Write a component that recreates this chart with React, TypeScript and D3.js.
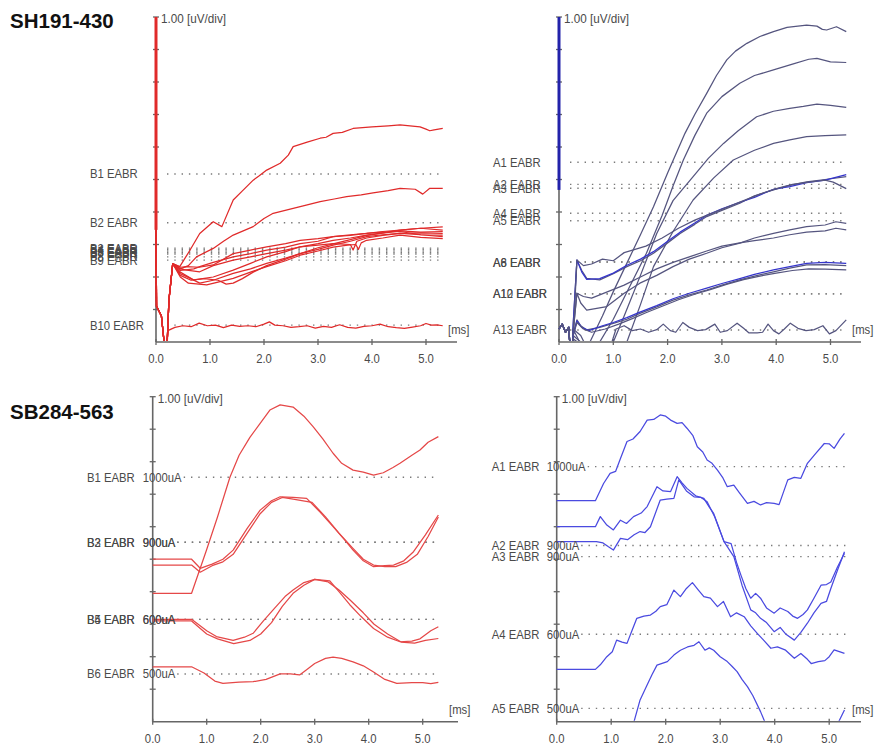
import React from 'react';
import * as d3 from 'd3';

type Pt = [number, number];

// ---- shared text / ticks ----
const titles = ['SH191-430', 'SB284-563'];
const scaleLabel = '1.00 [uV/div]';
const unitLabel = '[ms]';
const msTicks = [0, 1, 2, 3, 4, 5];
const msTickLabels = ['0.0', '1.0', '2.0', '3.0', '4.0', '5.0'];
const divTicks = [1, 2, 3, 4, 5, 6, 7, 8, 9, 10];

// ---- top left (SH191-430, B electrodes) ----
const tlRefNames = ['B1 EABR', 'B2 EABR', 'B3 EABR', 'B4 EABR', 'B5 EABR', 'B6 EABR', 'B7 EABR', 'B8 EABR', 'B9 EABR', 'B10 EABR'];
const tlRefValues = [5.17, 3.67, 2.89, 2.85, 2.8, 2.75, 2.71, 2.62, 2.52, 0.52];
const tlArtifact: Pt[] = [[0, 10], [0, 3.45]];
const tlOnset: Pt[] = [[0, 3.45], [0.01, 1.1], [0.1, 0.8], [0.15, 0], [0.18, -0.4], [0.2, -0.3], [0.24, 1.3], [0.31, 2.41]];
const tlB1: Pt[] = [[0.44, 2.32], [0.62, 2.8], [0.81, 3.34], [1.06, 3.7], [1.22, 3.55], [1.43, 4.37], [1.6, 4.65], [1.8, 4.98], [1.9, 5.1], [2.05, 5.29], [2.3, 5.5], [2.45, 5.75], [2.54, 6.01], [2.8, 6.15], [3.04, 6.27], [3.15, 6.3], [3.28, 6.42], [3.45, 6.45], [3.65, 6.57], [4.0, 6.62], [4.3, 6.65], [4.52, 6.68], [4.75, 6.64], [4.89, 6.62], [5.0, 6.55], [5.07, 6.5], [5.15, 6.53], [5.31, 6.57]];
const tlB2: Pt[] = [[0.45, 2.25], [0.6, 2.35], [0.75, 2.62], [1.06, 2.88], [1.25, 3.1], [1.43, 3.29], [1.8, 3.55], [2.0, 3.8], [2.17, 3.96], [2.54, 4.11], [2.8, 4.22], [3.04, 4.32], [3.3, 4.4], [3.53, 4.47], [3.8, 4.53], [4.02, 4.59], [4.3, 4.66], [4.52, 4.73], [4.8, 4.7], [4.94, 4.55], [5.07, 4.73], [5.31, 4.73]];
const tlC1: Pt[] = [[0.45, 2.25], [0.57, 2.21], [0.81, 2.16], [1.06, 2.35], [1.43, 2.52], [1.75, 2.62], [2.05, 2.72], [2.4, 2.83], [2.67, 2.93], [3.0, 3.03], [3.28, 3.13], [3.6, 3.2], [3.9, 3.29], [4.2, 3.36], [4.52, 3.44], [4.9, 3.5], [5.31, 3.54]];
const tlC2: Pt[] = [[0.45, 2.1], [0.57, 2.01], [0.81, 1.81], [1.06, 1.9], [1.43, 2.11], [1.75, 2.25], [2.05, 2.42], [2.4, 2.58], [2.67, 2.72], [3.0, 2.85], [3.28, 2.98], [3.6, 3.1], [3.9, 3.24], [4.2, 3.3], [4.52, 3.34], [4.9, 3.3], [5.31, 3.29]];
const tlC3: Pt[] = [[0.45, 2.0], [0.6, 1.81], [0.94, 1.76], [1.43, 1.96], [1.75, 2.15], [2.05, 2.32], [2.4, 2.5], [2.67, 2.67], [3.0, 2.8], [3.28, 2.92], [3.55, 2.98], [3.7, 3.0], [3.75, 2.85], [3.8, 3.05], [3.9, 3.13], [4.2, 3.2], [4.52, 3.29], [4.9, 3.22], [5.31, 3.18]];
const tlC4: Pt[] = [[0.45, 2.15], [0.7, 1.91], [1.06, 2.0], [1.43, 2.21], [1.75, 2.42], [2.05, 2.62], [2.4, 2.78], [2.67, 2.93], [3.0, 2.98], [3.28, 3.03], [3.6, 3.0], [3.65, 2.83], [3.72, 3.1], [3.9, 3.2], [4.2, 3.28], [4.52, 3.34], [4.9, 3.36], [5.31, 3.34]];
const tlC5: Pt[] = [[0.45, 2.05], [0.65, 1.9], [0.9, 1.95], [1.15, 1.9], [1.3, 1.78], [1.43, 1.81], [1.6, 1.95], [1.8, 2.15], [2.05, 2.35], [2.4, 2.55], [2.67, 2.72], [3.0, 2.9], [3.28, 3.02], [3.6, 3.15], [3.9, 3.28], [4.2, 3.35], [4.52, 3.42], [4.9, 3.38], [5.31, 3.4]];
const tlC6: Pt[] = [[0.45, 2.3], [0.57, 2.32], [0.8, 2.3], [1.06, 2.37], [1.43, 2.72], [1.75, 2.83], [2.05, 2.93], [2.4, 3.03], [2.67, 3.13], [3.0, 3.18], [3.28, 3.24], [3.6, 3.3], [3.9, 3.34], [4.2, 3.4], [4.52, 3.44], [4.9, 3.5], [5.31, 3.44]];
const tlC7: Pt[] = [[0.45, 2.2], [0.7, 2.25], [0.81, 2.32], [1.06, 2.45], [1.43, 2.62], [1.75, 2.72], [2.05, 2.83], [2.4, 2.92], [2.67, 3.03], [3.0, 3.1], [3.28, 3.24], [3.6, 3.28], [3.9, 3.34], [4.2, 3.38], [4.52, 3.4], [4.9, 3.3], [5.31, 3.24]];
const tlB10: Pt[] = [[0, 3.45], [0.01, 1.1], [0.1, 0.8], [0.15, 0], [0.18, -0.4], [0.2, -0.3], [0.22, 0.35], [0.35, 0.45], [0.5, 0.5], [0.65, 0.47], [0.8, 0.58], [0.95, 0.5], [1.1, 0.52], [1.25, 0.44], [1.4, 0.52], [1.55, 0.48], [1.7, 0.5], [1.85, 0.47], [2.0, 0.55], [2.1, 0.62], [2.2, 0.52], [2.35, 0.5], [2.5, 0.45], [2.65, 0.47], [2.8, 0.5], [2.95, 0.43], [3.1, 0.48], [3.25, 0.45], [3.4, 0.53], [3.55, 0.45], [3.7, 0.43], [3.85, 0.48], [4.0, 0.5], [4.15, 0.55], [4.3, 0.47], [4.45, 0.44], [4.6, 0.42], [4.75, 0.46], [4.9, 0.5], [5.0, 0.57], [5.1, 0.52], [5.2, 0.53], [5.31, 0.5]];

// ---- top right (SH191-430, A electrodes) ----
const trRefNames = ['A1 EABR', 'A2 EABR', 'A3 EABR', 'A4 EABR', 'A5 EABR', 'A6 EABR', 'A8 EABR', 'A10 EABR', 'A12 EABR', 'A13 EABR'];
const trRefValues = [5.53, 4.85, 4.73, 3.96, 3.73, 2.46, 2.46, 1.48, 1.48, 0.37];
const trArtifact: Pt[] = [[0, 10], [0, 4.68]];
const trOnset: Pt[] = [[0, 0.4], [0.06, 0.55], [0.12, 0.3], [0.18, 0.45], [0.22, -0.6], [0.24, -0.6]];
const trR1: Pt[] = [[0.26, 0.4], [0.35, 0.1], [0.45, -0.3], [0.57, 0], [0.8, 0.8], [1.0, 1.55], [1.2, 2.25], [1.5, 3.3], [1.74, 4.16], [2.0, 5.2], [2.32, 6.42], [2.5, 7.0], [2.72, 7.65], [2.9, 8.2], [3.09, 8.68], [3.25, 8.95], [3.46, 9.19], [3.7, 9.4], [3.95, 9.55], [4.2, 9.68], [4.56, 9.75], [4.75, 9.72], [4.85, 9.62], [4.93, 9.6], [5.11, 9.7], [5.29, 9.55]];
const trR2: Pt[] = [[0.26, 0.4], [0.4, 0.2], [0.55, -0.3], [0.75, 0], [1.0, 0.7], [1.3, 1.7], [1.61, 2.73], [1.9, 3.9], [2.1, 4.8], [2.29, 5.6], [2.5, 6.35], [2.72, 7.04], [3.0, 7.55], [3.33, 7.96], [3.6, 8.2], [3.95, 8.37], [4.3, 8.55], [4.6, 8.7], [4.75, 8.73], [5.0, 8.62], [5.29, 8.6]];
const trR3: Pt[] = [[0.26, 0.2], [0.4, 0.0], [0.6, -0.4], [0.85, -0.3], [1.0, 0], [1.2, 0.8], [1.5, 2.05], [1.8, 3.34], [2.1, 4.35], [2.47, 5.09], [2.75, 5.65], [3.03, 6.11], [3.3, 6.5], [3.64, 6.93], [3.95, 7.1], [4.25, 7.19], [4.5, 7.25], [4.75, 7.32], [5.0, 7.28], [5.29, 7.22]];
const trR4: Pt[] = [[0.26, 0.1], [0.5, -0.2], [1.0, -0.6], [1.25, 0], [1.5, 1.15], [1.74, 2.32], [2.1, 3.4], [2.47, 4.37], [2.85, 5.05], [3.21, 5.6], [3.6, 5.9], [3.95, 6.11], [4.25, 6.22], [4.56, 6.32], [4.9, 6.35], [5.29, 6.37]];
const trG1a: Pt[] = [[0.26, 0.5], [0.33, 2.52], [0.42, 2.2], [0.51, 1.96], [0.75, 1.91], [1.0, 2.1], [1.25, 2.32], [1.5, 2.5], [1.74, 2.73], [2.0, 3.05], [2.23, 3.34], [2.5, 3.62], [2.72, 3.86], [3.0, 4.05], [3.33, 4.27], [3.6, 4.5], [3.95, 4.68], [4.25, 4.82], [4.56, 4.93], [4.9, 5.0], [5.29, 5.09]];
const trG1b: Pt[] = [[0.26, 0.5], [0.33, 2.52], [0.42, 2.15], [0.51, 1.93], [0.75, 1.95], [1.0, 2.12], [1.25, 2.36], [1.5, 2.55], [1.74, 2.78], [2.0, 3.1], [2.23, 3.38], [2.5, 3.66], [2.72, 3.9], [3.0, 4.1], [3.33, 4.3], [3.6, 4.45], [3.95, 4.7], [4.25, 4.78], [4.56, 4.9], [4.9, 4.98], [5.29, 5.15]];
const trG1c: Pt[] = [[0.33, 2.52], [0.45, 2.35], [0.6, 2.4], [0.8, 2.55], [1.0, 2.5], [1.2, 2.75], [1.4, 2.85], [1.6, 2.95], [1.9, 3.2], [2.2, 3.5], [2.5, 3.75], [2.8, 3.95], [3.1, 4.15], [3.4, 4.35], [3.7, 4.55], [4.0, 4.72], [4.3, 4.85], [4.6, 4.92], [4.9, 4.98], [5.05, 4.92], [5.29, 4.72]];
const trG2a: Pt[] = [[0.26, 0.3], [0.33, 1.5], [0.4, 1.2], [0.51, 0.98], [0.88, 1.09], [1.2, 1.5], [1.49, 1.81], [1.8, 2.05], [2.1, 2.32], [2.4, 2.55], [2.72, 2.73], [3.0, 2.9], [3.33, 3.04], [3.6, 3.2], [3.95, 3.34], [4.25, 3.45], [4.56, 3.55], [4.9, 3.6], [5.1, 3.7], [5.29, 3.65]];
const trG2b: Pt[] = [[0.26, 0.3], [0.33, 1.5], [0.45, 1.4], [0.6, 1.35], [0.9, 1.55], [1.2, 1.75], [1.5, 2.0], [1.8, 2.25], [2.1, 2.45], [2.4, 2.62], [2.72, 2.8], [3.0, 2.95], [3.33, 3.05], [3.6, 3.12], [3.95, 3.2], [4.25, 3.3], [4.56, 3.38], [4.9, 3.42], [5.1, 3.5], [5.29, 3.45]];
const trG3a: Pt[] = [[0.26, 0.2], [0.33, 0.68], [0.4, 0.5], [0.51, 0.37], [0.75, 0.45], [1.0, 0.57], [1.25, 0.7], [1.49, 0.88], [1.8, 1.08], [2.1, 1.29], [2.4, 1.45], [2.72, 1.6], [3.0, 1.75], [3.33, 1.91], [3.6, 2.03], [3.95, 2.16], [4.25, 2.27], [4.56, 2.37], [4.9, 2.38], [5.29, 2.35]];
const trG3b: Pt[] = [[0.26, 0.2], [0.33, 0.65], [0.42, 0.45], [0.55, 0.35], [0.8, 0.5], [1.0, 0.6], [1.25, 0.75], [1.49, 0.92], [1.8, 1.12], [2.1, 1.33], [2.4, 1.5], [2.72, 1.66], [3.0, 1.8], [3.33, 1.95], [3.6, 2.08], [3.95, 2.22], [4.25, 2.32], [4.56, 2.42], [4.9, 2.45], [5.29, 2.42]];
const trG3c: Pt[] = [[0.26, 0.2], [0.33, 0.6], [0.45, 0.4], [0.6, 0.3], [0.85, 0.4], [1.1, 0.55], [1.35, 0.72], [1.6, 0.9], [1.9, 1.1], [2.2, 1.3], [2.5, 1.47], [2.8, 1.62], [3.1, 1.78], [3.4, 1.92], [3.7, 2.03], [4.0, 2.12], [4.3, 2.2], [4.6, 2.25], [4.9, 2.24], [5.29, 2.22]];
const trA13: Pt[] = [[0.26, 0.1], [0.35, -0.5], [0.9, -0.4], [1.05, 0.4], [1.2, 0.5], [1.35, 0.35], [1.5, 0.4], [1.65, 0.3], [1.8, 0.38], [1.92, 0.55], [2.05, 0.35], [2.15, 0.3], [2.28, 0.6], [2.4, 0.45], [2.55, 0.35], [2.7, 0.38], [2.87, 0.55], [2.97, 0.3], [3.1, 0.35], [3.28, 0.58], [3.4, 0.42], [3.5, 0.28], [3.65, 0.28], [3.75, 0.3], [3.85, 0.55], [3.95, 0.35], [4.05, 0.25], [4.15, 0.4], [4.26, 0.58], [4.4, 0.42], [4.55, 0.35], [4.7, 0.38], [4.86, 0.5], [4.98, 0.25], [5.1, 0.35], [5.29, 0.68]];

// ---- bottom left (SB284-563, B electrodes) ----
const blRefNames = ['B1 EABR', 'B2 EABR', 'B3 EABR', 'B4 EABR', 'B5 EABR', 'B6 EABR'];
const blRefCurrents = ['1000uA', '900uA', '900uA', '600uA', '600uA', '500uA'];
const blRefValues = [7.52, 5.52, 5.52, 3.15, 3.15, 1.47];
const blB1: Pt[] = [[0, 3.95], [0.72, 3.95], [1.0, 5.3], [1.2, 6.3], [1.43, 7.52], [1.6, 8.2], [1.8, 8.75], [1.99, 9.18], [2.17, 9.59], [2.36, 9.75], [2.6, 9.68], [2.8, 9.4], [2.97, 9.08], [3.15, 8.7], [3.34, 8.26], [3.5, 7.95], [3.71, 7.74], [3.9, 7.68], [4.09, 7.59], [4.27, 7.66], [4.45, 7.82], [4.58, 7.95], [4.8, 8.2], [4.95, 8.36], [5.1, 8.6], [5.29, 8.77]];
const blB2: Pt[] = [[0, 5.0], [0.72, 5.0], [0.88, 4.72], [1.1, 4.85], [1.3, 5.0], [1.49, 5.28], [1.75, 5.95], [1.99, 6.51], [2.2, 6.8], [2.36, 6.92], [2.6, 6.9], [2.85, 6.87], [3.1, 6.45], [3.34, 6.0], [3.55, 5.6], [3.71, 5.28], [3.9, 4.95], [4.09, 4.77], [4.3, 4.8], [4.46, 4.82], [4.65, 4.95], [4.83, 5.23], [5.05, 5.75], [5.29, 6.36]];
const blB3: Pt[] = [[0, 4.82], [0.72, 4.82], [0.88, 4.6], [1.1, 4.8], [1.3, 4.92], [1.49, 5.15], [1.75, 5.8], [1.99, 6.4], [2.2, 6.75], [2.4, 6.9], [2.6, 6.85], [2.95, 6.75], [3.2, 6.3], [3.45, 5.8], [3.7, 5.35], [3.9, 5.0], [4.09, 4.82], [4.3, 4.77], [4.5, 4.77], [4.7, 4.9], [4.9, 5.15], [5.1, 5.7], [5.29, 6.3]];
const blB4: Pt[] = [[0, 3.1], [0.72, 3.1], [1.0, 2.7], [1.2, 2.55], [1.5, 2.4], [1.8, 2.5], [2.0, 2.7], [2.2, 3.05], [2.4, 3.55], [2.6, 3.95], [2.8, 4.2], [3.0, 4.38], [3.25, 4.3], [3.45, 4.05], [3.65, 3.75], [3.9, 3.35], [4.1, 3.0], [4.35, 2.7], [4.6, 2.45], [4.85, 2.42], [5.05, 2.5], [5.29, 2.56]];
const blB5: Pt[] = [[0, 3.15], [0.72, 3.15], [1.0, 2.8], [1.18, 2.62], [1.49, 2.5], [1.7, 2.6], [1.86, 2.72], [2.05, 3.1], [2.23, 3.44], [2.45, 3.85], [2.6, 4.05], [2.8, 4.28], [3.0, 4.38], [3.28, 4.33], [3.45, 4.0], [3.65, 3.6], [3.85, 3.25], [4.09, 2.87], [4.35, 2.6], [4.58, 2.46], [4.8, 2.48], [4.95, 2.55], [5.15, 2.8], [5.29, 2.92]];
const blB6: Pt[] = [[0, 1.69], [0.72, 1.69], [0.95, 1.5], [1.15, 1.25], [1.3, 1.18], [1.6, 1.22], [1.86, 1.23], [2.1, 1.3], [2.36, 1.47], [2.55, 1.47], [2.72, 1.44], [2.85, 1.6], [3.0, 1.79], [3.2, 1.95], [3.34, 1.99], [3.5, 1.95], [3.71, 1.84], [3.9, 1.72], [4.09, 1.53], [4.3, 1.3], [4.52, 1.18], [4.8, 1.2], [5.0, 1.2], [5.15, 1.17], [5.29, 1.21]];

// ---- bottom right (SB284-563, A electrodes) ----
const brRefNames = ['A1 EABR', 'A2 EABR', 'A3 EABR', 'A4 EABR', 'A5 EABR'];
const brRefCurrents = ['1000uA', '900uA', '900uA', '600uA', '500uA'];
const brRefValues = [7.85, 5.42, 5.08, 2.69, 0.41];
const brA1: Pt[] = [[0, 6.8], [0.71, 6.8], [0.86, 7.33], [0.98, 7.64], [1.08, 7.7], [1.17, 8.1], [1.29, 8.62], [1.4, 8.7], [1.53, 8.93], [1.66, 9.28], [1.78, 9.3], [1.9, 9.44], [2.0, 9.4], [2.09, 9.28], [2.21, 9.18], [2.3, 9.2], [2.39, 9.03], [2.5, 8.8], [2.58, 8.46], [2.68, 8.3], [2.76, 8.05], [2.85, 7.95], [2.95, 7.74], [3.05, 7.5], [3.13, 7.23], [3.25, 7.28], [3.35, 7.05], [3.5, 6.72], [3.62, 6.78], [3.74, 6.67], [3.85, 6.74], [3.99, 6.72], [4.08, 6.68], [4.24, 7.44], [4.36, 7.52], [4.48, 7.49], [4.6, 7.95], [4.75, 8.25], [4.91, 8.56], [5.0, 8.55], [5.09, 8.41], [5.2, 8.7], [5.28, 8.87]];
const brA2: Pt[] = [[0, 6.0], [0.71, 6.0], [0.8, 6.31], [0.92, 6.05], [1.04, 5.9], [1.17, 6.2], [1.28, 6.1], [1.41, 6.31], [1.55, 6.42], [1.66, 6.62], [1.84, 7.23], [1.95, 7.1], [2.09, 7.08], [2.21, 7.54], [2.3, 7.35], [2.39, 7.18], [2.55, 6.95], [2.7, 6.87], [2.8, 6.6], [2.88, 6.41], [2.97, 6.0], [3.07, 5.54], [3.2, 5.48], [3.3, 4.9], [3.38, 4.51], [3.47, 4.1], [3.56, 3.8], [3.65, 3.95], [3.74, 3.8], [3.85, 3.5], [3.99, 3.34], [4.1, 3.5], [4.24, 3.39], [4.33, 3.25], [4.42, 3.18], [4.52, 3.3], [4.6, 3.44], [4.72, 3.8], [4.85, 4.2], [4.95, 4.22], [5.03, 4.3], [5.15, 4.75], [5.28, 5.18]];
const brA3: Pt[] = [[0, 5.54], [0.73, 5.54], [0.85, 5.5], [0.95, 5.38], [1.04, 5.28], [1.17, 5.64], [1.3, 5.6], [1.42, 5.75], [1.53, 5.85], [1.62, 5.82], [1.72, 6.0], [1.9, 6.82], [2.02, 6.85], [2.15, 6.87], [2.24, 7.44], [2.38, 7.1], [2.52, 6.92], [2.65, 6.9], [2.76, 6.77], [2.9, 6.3], [3.07, 5.54], [3.25, 5.08], [3.4, 4.2], [3.56, 3.44], [3.65, 3.35], [3.74, 3.18], [3.85, 3.05], [3.99, 2.77], [4.1, 2.9], [4.2, 2.7], [4.36, 2.51], [4.48, 2.75], [4.6, 3.03], [4.72, 3.35], [4.85, 3.64], [4.95, 3.7], [5.03, 4.1], [5.15, 4.65], [5.28, 5.23]];
const brA4: Pt[] = [[0, 1.61], [0.71, 1.61], [0.8, 1.75], [0.92, 2.0], [1.02, 2.15], [1.1, 2.51], [1.2, 2.45], [1.29, 2.41], [1.38, 2.8], [1.47, 3.18], [1.6, 3.25], [1.72, 3.28], [1.82, 3.4], [1.9, 3.54], [2.02, 3.6], [2.15, 4.05], [2.27, 3.85], [2.38, 4.1], [2.49, 4.28], [2.6, 4.05], [2.7, 3.85], [2.82, 3.8], [2.95, 3.54], [3.06, 3.7], [3.19, 3.23], [3.3, 3.35], [3.44, 3.23], [3.56, 2.95], [3.68, 2.72], [3.8, 2.5], [3.93, 2.26], [4.05, 2.3], [4.2, 2.2], [4.36, 1.95], [4.48, 2.1], [4.6, 1.92], [4.67, 1.79], [4.8, 1.85], [4.92, 1.88], [5.0, 2.0], [5.09, 2.21], [5.2, 2.15], [5.28, 2.1]];
const brA5: Pt[] = [[0, -1], [0.7, -1], [1.2, -0.6], [1.41, -0.05], [1.53, 0.67], [1.65, 1.1], [1.75, 1.45], [1.84, 1.74], [2.03, 1.85], [2.15, 2.05], [2.27, 2.2], [2.4, 2.3], [2.52, 2.35], [2.61, 2.46], [2.72, 2.2], [2.8, 2.27], [2.88, 2.2], [3.0, 2.0], [3.13, 1.85], [3.22, 1.7], [3.31, 1.54], [3.4, 1.3], [3.5, 1.08], [3.6, 0.8], [3.74, 0.31], [3.83, -0.05], [4.0, -0.8], [4.6, -1.2], [5.0, -0.6], [5.16, -0.05], [5.28, 0.36]];

// ---- layout ----
const font = "'Liberation Sans', Arial, sans-serif";
const textGray = '#4a4a4a';
const axisGray = '#666';

type Layout = { x0: number; pxMs: number; yTop: number; yBot: number; axisEnd: number };
type Ref = { name: string; current?: string; value: number };
type Trace = { pts: Pt[]; color: string };

const Label = ({ x, y, children, anchor = 'start', size = 13, sx = 0.87, weight = 'normal', fill = textGray }: any) => (
  <text transform={`translate(${x},${y}) scale(${sx},1)`} fontSize={size} fontFamily={font} textAnchor={anchor} fontWeight={weight} fill={fill}>
    {children}
  </text>
);

const Panel = ({ id, layout, traces, refs, labelX, currentX, artifact, artifactColor }: {
  id: string; layout: Layout; traces: Trace[]; refs: Ref[]; labelX: number; currentX?: number;
  artifact?: Pt[]; artifactColor?: string;
}) => {
  const { x0, pxMs, yTop, yBot, axisEnd } = layout;
  const x = d3.scaleLinear().domain([0, 5]).range([x0, x0 + 5 * pxMs]);
  const y = d3.scaleLinear().domain([0, 10]).range([yBot, yTop]);
  const line = d3.line<Pt>().x(d => x(d[0])).y(d => y(d[1]));
  const dataEnd = x(5.3);
  return (
    <g>
      <defs>
        <clipPath id={`clip-${id}`}>
          <rect x={x0 - 1} y={yTop - 2} width={axisEnd - x0} height={yBot - yTop + 1} />
        </clipPath>
      </defs>
      {/* reference dotted lines */}
      {refs.map((r, i) => {
        const start = r.current ? (currentX as number) + r.current.length * 6.5 + 2 : x0 + 11;
        return (
          <line key={`d${i}`} x1={start} x2={dataEnd} y1={y(r.value)} y2={y(r.value)}
            stroke="#7a7a7a" strokeWidth={1.4} strokeDasharray="1.4 5.9" />
        );
      })}
      {/* axes */}
      <line x1={x0} x2={x0} y1={yTop} y2={yBot} stroke={axisGray} strokeWidth={1.6} />
      <line x1={x0} x2={axisEnd} y1={yBot} y2={yBot} stroke={axisGray} strokeWidth={1.6} />
      {divTicks.map(d => (
        <line key={`yt${d}`} x1={x0 - 3} x2={x0 + 3} y1={y(d)} y2={y(d)} stroke={axisGray} strokeWidth={1.3} />
      ))}
      {msTicks.map((t, i) => (
        <g key={`xt${t}`}>
          <line x1={x(t)} x2={x(t)} y1={yBot - 3} y2={yBot + 3} stroke={axisGray} strokeWidth={1.3} />
          <Label x={x(t)} y={yBot + 21} anchor="middle">{msTickLabels[i]}</Label>
        </g>
      ))}
      <Label x={x0 + 5} y={yTop + 6} sx={0.9}>{scaleLabel}</Label>
      <Label x={axisEnd - 9} y={yBot - 8}>{unitLabel}</Label>
      {/* traces */}
      <g clipPath={`url(#clip-${id})`}>
        {traces.map((tr, i) => (
          <path key={`p${i}`} d={line(tr.pts) || ''} fill="none" stroke={tr.color} strokeWidth={1.25} strokeLinejoin="round" />
        ))}
      </g>
      {artifact && (
        <path d={line(artifact) || ''} stroke={artifactColor} strokeWidth={3} fill="none" />
      )}
      {/* labels */}
      {refs.map((r, i) => (
        <g key={`l${i}`}>
          <Label x={labelX} y={y(r.value) + 4.5}>{r.name}</Label>
          {r.current && <Label x={currentX} y={y(r.value) + 4.5}>{r.current}</Label>}
        </g>
      ))}
    </g>
  );
};

const toRefs = (names: string[], values: number[], currents?: string[]): Ref[] =>
  names.map((n, i) => ({ name: n, value: values[i], current: currents ? currents[i] : undefined }));

const red = '#e02a2a';
const red2 = '#e54848';
const navy = '#55557f';
const blue = '#3535cc';
const blue2 = '#4a4ae0';

export default function App() {
  const tl: Layout = { x0: 156, pxMs: 54, yTop: 17, yBot: 342, axisEnd: 457 };
  const tr: Layout = { x0: 559, pxMs: 54.3, yTop: 17, yBot: 342, axisEnd: 861 };
  const bl: Layout = { x0: 152.7, pxMs: 54, yTop: 396.7, yBot: 721.7, axisEnd: 458 };
  const br: Layout = { x0: 556.7, pxMs: 54.5, yTop: 396.7, yBot: 721.7, axisEnd: 861 };

  const tlTraces: Trace[] = [tlB1, tlB2, tlC1, tlC2, tlC3, tlC4, tlC5, tlC6, tlC7]
    .map(p => ({ pts: [...tlOnset, ...p], color: red }))
    .concat([{ pts: tlB10, color: red }]);
  const trTraces: Trace[] = [
    { pts: trR1, color: navy }, { pts: trR2, color: navy }, { pts: trR3, color: navy }, { pts: trR4, color: navy },
    { pts: trG1a, color: navy }, { pts: trG1b, color: blue }, { pts: trG1c, color: navy },
    { pts: trG2a, color: navy }, { pts: trG2b, color: navy },
    { pts: trG3a, color: navy }, { pts: trG3b, color: blue }, { pts: trG3c, color: navy },
    { pts: trA13, color: navy },
  ].map(t => ({ ...t, pts: [...trOnset, ...t.pts] }));
  const blTraces: Trace[] = [blB1, blB2, blB3, blB4, blB5, blB6].map(p => ({ pts: p, color: red2 }));
  const brTraces: Trace[] = [brA1, brA2, brA3, brA4, brA5].map(p => ({ pts: p, color: blue2 }));

  return (
    <svg width={875} height={749} style={{ position: 'absolute', left: 0, top: 0, background: '#fff' }}>
      <rect width={875} height={749} fill="#fff" />
      <Label x={10} y={28} size={20.5} sx={1} weight="bold" fill="#111">{titles[0]}</Label>
      <Label x={10} y={419} size={20.5} sx={1} weight="bold" fill="#111">{titles[1]}</Label>
      <Panel id="tl" layout={tl} traces={tlTraces} refs={toRefs(tlRefNames, tlRefValues)} labelX={90}
        artifact={tlArtifact} artifactColor={red} />
      <Panel id="tr" layout={tr} traces={trTraces} refs={toRefs(trRefNames, trRefValues)} labelX={493}
        artifact={trArtifact} artifactColor="#2222aa" />
      <Panel id="bl" layout={bl} traces={blTraces} refs={toRefs(blRefNames, blRefValues, blRefCurrents)} labelX={87}
        currentX={142.7} />
      <Panel id="br" layout={br} traces={brTraces} refs={toRefs(brRefNames, brRefValues, brRefCurrents)} labelX={491.7}
        currentX={546.7} />
    </svg>
  );
}
